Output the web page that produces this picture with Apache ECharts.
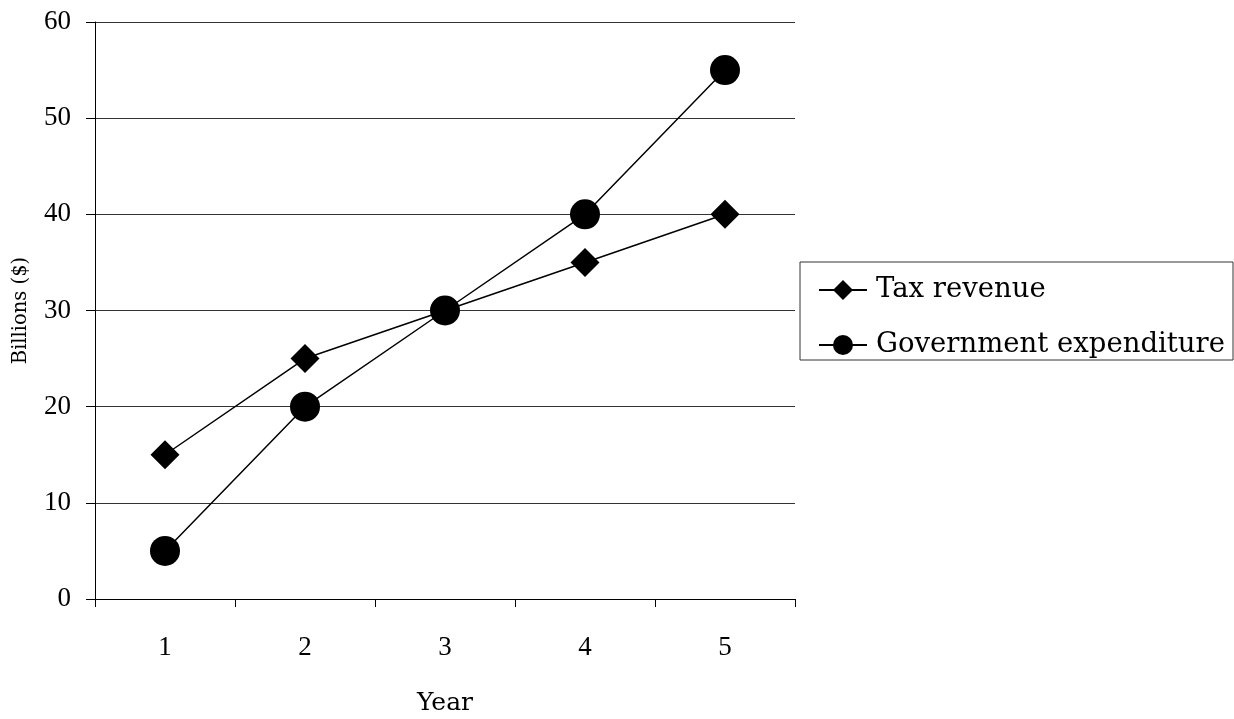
<!DOCTYPE html>
<html>
<head>
<meta charset="utf-8">
<script src="https://cdn.jsdelivr.net/npm/echarts@6/dist/echarts.min.js"></script>
<style>
  html, body { margin: 0; padding: 0; background: #fff; }
  #chart { width: 1234px; height: 719px; }
</style>
</head>
<body>
<div id="chart"></div>
<script>
const years = ["1", "2", "3", "4", "5"];
const taxRevenue = [15, 25, 30, 35, 40];
const govExpenditure = [5, 20, 30, 40, 55];

const SERIF = "DejaVu Serif";
const TICKFONT = "Liberation Serif";

const chart = echarts.init(document.getElementById("chart"));

chart.setOption({
  backgroundColor: "#fff",
  animation: false,
  textStyle: { fontFamily: SERIF, color: "#000" },
  grid: { left: 95, right: 439, top: 22, bottom: 120, outerBoundsMode: "none" },
  legend: {
    orient: "vertical",
    left: 800,
    top: 262,
    padding: [14, 8, 1, 18],
    itemGap: 27,
    itemWidth: 48,
    itemHeight: 25,
    borderColor: "#333",
    borderWidth: 1,
    textStyle: { fontFamily: SERIF, fontSize: 27.5, lineHeight: 28, color: "#000", padding: [0, 0, 0, 4] },
    data: ["Tax revenue", "Government expenditure"]
  },
  xAxis: {
    type: "category",
    data: years,
    boundaryGap: true,
    name: "Year",
    nameLocation: "middle",
    nameGap: 92,
    nameTextStyle: { fontFamily: SERIF, fontSize: 25, color: "#000" },
    axisLine: { lineStyle: { color: "#000", width: 1 } },
    axisTick: { show: true, length: 8, lineStyle: { color: "#000" } },
    axisLabel: { fontFamily: TICKFONT, fontSize: 27, color: "#000", margin: 35 },
    splitLine: { show: false }
  },
  yAxis: {
    type: "value",
    min: 0,
    max: 60,
    interval: 10,
    name: "Billions ($)",
    nameLocation: "middle",
    nameRotate: 90,
    nameGap: 64,
    nameTextStyle: { fontFamily: SERIF, fontSize: 19.5, color: "#000" },
    axisLine: { show: true, lineStyle: { color: "#000", width: 1 } },
    axisTick: { show: true, length: 9, lineStyle: { color: "#000" } },
    axisLabel: { fontFamily: TICKFONT, fontSize: 27, color: "#000", margin: 24 },
    splitLine: { show: true, lineStyle: { color: "#333", width: 1.2 } }
  },
  series: [
    {
      name: "Tax revenue",
      type: "line",
      data: taxRevenue,
      symbol: "diamond",
      symbolSize: 29,
      itemStyle: { color: "#000" },
      lineStyle: { color: "#000", width: 1.5 }
    },
    {
      name: "Government expenditure",
      type: "line",
      data: govExpenditure,
      symbol: "circle",
      symbolSize: 30,
      itemStyle: { color: "#000" },
      lineStyle: { color: "#000", width: 1.5 }
    }
  ]
});
</script>
</body>
</html>
